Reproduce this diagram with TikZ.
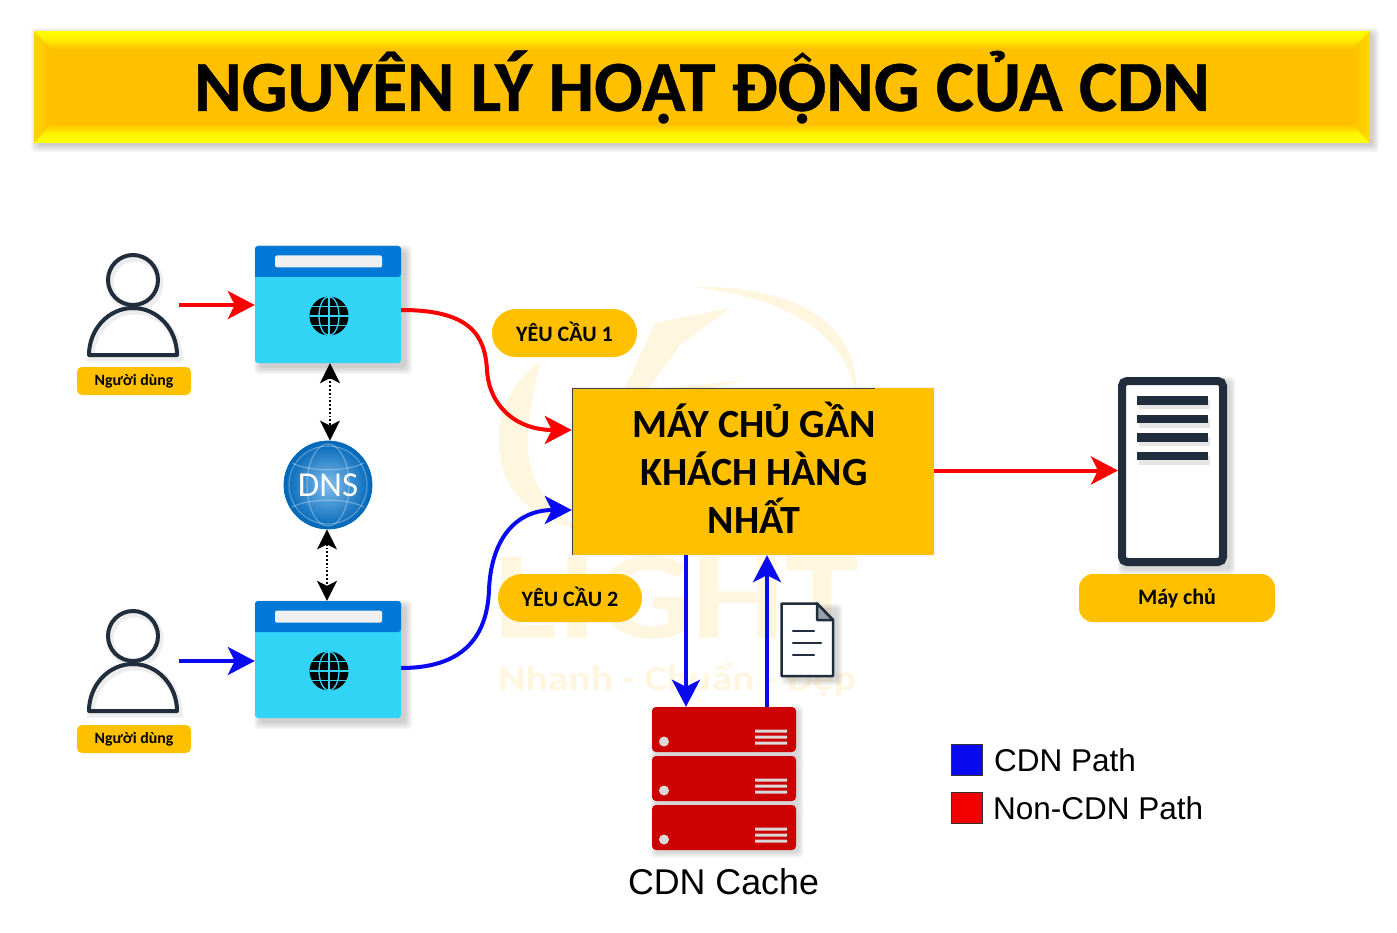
\documentclass[tikz,border=0pt]{standalone}
\usepackage{fontspec}
\setmainfont{Carlito}
\newfontfamily\arialfont{Liberation Sans}
\newfontfamily\headfont[BoldFont={Carlito Bold},BoldFeatures={FakeBold=0.6}]{Carlito}
\usetikzlibrary{arrows.meta,calc,shadings}
\definecolor{amber}{HTML}{FFC000}
\definecolor{ink}{HTML}{1F2D3D}
\definecolor{pale}{HTML}{FFF6E0}
\definecolor{cobalt}{HTML}{0078D7}
\definecolor{sky}{HTML}{32D4F5}
\definecolor{rack}{HTML}{CC0000}
\definecolor{pathblue}{HTML}{0A0AF0}
\tikzset{
  pill/.style={fill=amber,rounded corners=24pt,inner sep=0pt,font=\bfseries\fontsize{22}{22}\selectfont},
  tag/.style={fill=amber,rounded corners=5pt,inner sep=0pt,minimum width=114pt,minimum height=28pt,font=\bfseries\fontsize{15.8}{15.8}\selectfont},
  bigtip/.style={-{Stealth[length=27pt,width=28pt,inset=7pt]}},
  dnstip/.style={{Stealth[length=20pt,width=20pt,inset=5pt]}-{Stealth[length=20pt,width=20pt,inset=5pt]},line width=1.8pt,dotted},
  redpath/.style={bigtip,draw=red,line width=4pt},
  bluepath/.style={bigtip,draw=pathblue,line width=4pt},
  iconline/.style={draw=ink,line join=round,line cap=round},
}
% soft drop shadow under a rounded box: corners, then offset and spread
\newcommand{\softbox}[6]{%
  \foreach \s in {0,1.5,...,#6}{%
    \fill[black,opacity=.04,rounded corners=4pt]
      (#1+#5-\s,#2+#5-\s) rectangle (#3+#5+\s,#4+#5+\s);}}
% person icon: #1 node name, #2 vertical offset
\newcommand{\personicon}[2]{%
  \begin{scope}[yshift=-#2pt]
    \draw[black,opacity=.07,line width=7pt] (135,283) circle (25);
    \draw[black,opacity=.07,line width=7pt] (91,358) arc[start angle=180,end angle=360,x radius=44,y radius=47] -- cycle;
    \draw[iconline,line width=4pt] (133,280) circle (25);
    \draw[iconline,line width=4pt] (89,355) arc[start angle=180,end angle=360,x radius=44,y radius=47] -- cycle;
    \node[minimum width=92pt,minimum height=102pt,inner sep=0pt] (#1) at (133,305) {};
  \end{scope}}
% browser window icon: #1 node name, #2 top edge
\newcommand{\browserwin}[2]{%
  \softbox{255}{#2}{401}{#2+117}{5}{6}
  \node[fill=sky,rounded corners=3pt,minimum width=146pt,minimum height=117pt,inner sep=0pt] (#1) at (328,#2+58.5) {};
  \fill[cobalt,rounded corners=3pt] (255,#2+31) -- (255,#2) -- (401,#2) -- (401,#2+31) [sharp corners] -- cycle;
  \fill[white!94!black,rounded corners=1.5pt] (275,#2+9.5) rectangle (382,#2+21.5);
  \begin{scope}[shift={(329,#2+70)}]
    \fill[black] (0,0) circle (19.5);
    \draw[sky,line width=1.3pt] (-19.5,0) -- (19.5,0) (-18,-9.5) -- (18,-9.5) (-18,9.5) -- (18,9.5) (0,-19.5) -- (0,19.5);
    \draw[sky,line width=1.3pt] (0,0) ellipse (10 and 19.5);
  \end{scope}}
% one unit of the red rack: #1 top edge
\newcommand{\rackunit}[1]{%
  \softbox{652}{#1}{796}{#1+45}{3}{4.5}
  \fill[rack,rounded corners=4pt] (652,#1) rectangle (796,#1+45);
  \fill[white!85!black] (664,#1+34.5) circle (5);
  \fill[white!85!black] (755,#1+22.5) rectangle (787,#1+25.5)
                        (755,#1+28.5) rectangle (787,#1+31.5)
                        (755,#1+34.5) rectangle (787,#1+37.5);}
\begin{document}
\begin{tikzpicture}[x=1pt,y=-1pt]
\useasboundingbox (0,0) rectangle (1397,933);
\fill[white] (0,0) rectangle (1397,933);

% pale brand mark behind the diagram
\fill[pale] (693,287) .. controls (790,285) and (860,320) .. (856,395)
            .. controls (845,335) and (790,298) .. (693,287) -- cycle;
\fill[pale] (540,362) .. controls (505,385) and (495,425) .. (500,455)
            .. controls (505,495) and (535,520) .. (580,530)
            .. controls (545,505) and (528,480) .. (528,445)
            .. controls (528,415) and (535,385) .. (540,362) -- cycle;
\fill[pale] (730,308) -- (655,323) -- (622,395) -- (640,400) -- (680,345) -- cycle;
\fill[pale] (747,380) -- (690,392) -- (670,388) -- cycle;
\node[pale,inner sep=0pt,transform shape,xscale=1.19,font=\bfseries\fontsize{125}{125}\selectfont] (markname) at (677,598) {LIGHT};
\node[pale,inner sep=0pt,transform shape,xscale=1.19,font=\bfseries\fontsize{35}{35}\selectfont] (markmotto) at (677,680) {Nhanh - Chuẩn - Đẹp};

% title banner with bevelled edges
\softbox{34}{31}{1370}{143}{3}{6}
\node[fill=amber,minimum width=1336pt,minimum height=112pt,inner sep=0pt,
      font=\headfont\bfseries\fontsize{72}{72}\selectfont] (banner) at (702,87) {\raisebox{-2pt}{NGUYÊN LÝ HOẠT ĐỘNG CỦA CDN}};
% circumflex of the capital O with dot below, which the bold face leaves out
\draw[black,line width=3.6pt,miter limit=10] (794.5,61) -- (802.5,54.5) -- (810.5,61);
\shade[top color=yellow,bottom color=amber,middle color=yellow!70!amber] (34,31) -- (1370,31) -- (1353,49) -- (51,49) -- cycle;
\shade[top color=amber,bottom color=yellow,middle color=yellow!85!amber] (34,143) -- (1370,143) -- (1353,124) -- (51,124) -- cycle;
\shade[left color=yellow!35!amber,right color=amber] (34,31) -- (51,49) -- (51,124) -- (34,143) -- cycle;
\shade[left color=amber,right color=yellow!45!amber] (1370,31) -- (1353,49) -- (1353,124) -- (1370,143) -- cycle;

% users and their browsers
\personicon{userA}{0}
\personicon{userB}{356}
\node[tag] (tagA) at (134,381) {\raisebox{-3pt}{Người dùng}};
\node[tag] (tagB) at (134,739) {\raisebox{-3pt}{Người dùng}};
\browserwin{browserA}{246}
\browserwin{browserB}{601}

% DNS globe
\node[circle,minimum size=88pt,inner sep=0pt,inner color=cobalt!50!white,outer color=cobalt!85!black,draw=cobalt!90!black,line width=.8pt] (dns) at (328,485) {};
\begin{scope}[white,opacity=.32,line width=1.1pt]
  \draw (328,485) circle (39);
  \draw (328,485) ellipse (21 and 41);
  \draw (292,463) .. controls (310,472) and (346,472) .. (364,463);
  \draw (292,507) .. controls (310,498) and (346,498) .. (364,507);
\end{scope}
\node[white,inner sep=0pt,font=\fontsize{35}{35}\selectfont] at (dns) {DNS};

% nearest edge server
\softbox{572}{388}{934}{555}{0}{1.5}
\node[fill=amber,minimum width=362pt,minimum height=167pt,inner sep=0pt,align=center,
      font=\bfseries\fontsize{40}{48}\selectfont] (edge) at (753,471.5)
      {\raisebox{7pt}{\hspace*{2pt}MÁY CHỦ GẦN}\\\raisebox{7pt}{\hspace*{2pt}KHÁCH HÀNG}\\\raisebox{7pt}{\hspace*{2pt}NHẤT}};
\draw[black!75,line width=.8pt] (572,555) -- (572,388) -- (875,388);

% request labels
\node[pill,minimum width=145pt,minimum height=48pt] (reqA) at (564.5,333) {\raisebox{2pt}{YÊU CẦU 1}};
\node[pill,minimum width=144pt,minimum height=48pt] (reqB) at (570,598) {\raisebox{2pt}{YÊU CẦU 2}};

% origin server
\softbox{1118}{377}{1227}{566}{4}{5}
\node[draw=ink,fill=white,line width=8pt,rounded corners=5pt,minimum width=101pt,minimum height=181pt,inner sep=0pt] (origin) at (1172.5,471.5) {};
\foreach \yy in {396,414.5,433,451.5}{
  \fill[black,opacity=.10] (1139,\yy+4) rectangle (1210,\yy+13);
  \fill[ink] (1137,\yy) rectangle (1208,\yy+8.5);}
\node[fill=amber,rounded corners=14pt,inner sep=0pt,minimum width=196pt,minimum height=48pt,
      font=\bfseries\fontsize{22}{22}\selectfont] (originTag) at (1177,598) {\raisebox{-5pt}{Máy chủ}};

% CDN cache rack
\rackunit{707}
\rackunit{756}
\rackunit{805}
\node[minimum width=144pt,minimum height=143pt,inner sep=0pt] (rack) at (724,778.5) {};
\node[inner sep=0pt,font=\arialfont\fontsize{35.8}{36}\selectfont] (rackName) at (723.5,882) {CDN Cache};

% document icon
\softbox{781}{603}{833}{676}{5}{5}
\draw[iconline,fill=white,line width=2.5pt] (781.5,603.5) -- (817,603.5) -- (833,620) -- (833,676) -- (781.5,676) -- cycle;
\draw[iconline,fill=ink!45!white,line width=2.5pt] (817,603.5) -- (817,620) -- (833,620) -- cycle;
\draw[iconline,line width=2.5pt] (793,631) -- (814,631) (793,643) -- (821,643) (793,655) -- (814,655);
\node[inner sep=0pt,minimum width=52pt,minimum height=73pt] (doc) at (807,640) {};

% connectors
\draw[redpath] (userA.east) -- (userA.east -| browserA.west);
\draw[bluepath] (userB.east) -- (userB.east -| browserB.west);
\draw[dnstip] ([xshift=2pt]browserA.south) -- ([xshift=2pt]dns.north);
\draw[dnstip] ([xshift=-1pt]dns.south) -- ([xshift=-1pt]browserB.north);
\draw[redpath] ([yshift=-5.5pt]browserA.east) .. controls (470,310) and (485,335) .. (487,370)
               .. controls (489,405) and (515,430) .. ([yshift=41.5pt]edge.west);
\draw[bluepath] ([yshift=-8.5pt]browserB.east) .. controls (460,668) and (487,640) .. (489,590)
               .. controls (491,540) and (515,510) .. ([yshift=-38.5pt]edge.west);
\draw[redpath] ([yshift=1pt]edge.east) -- ([yshift=1pt]edge.east -| origin.west);
\draw[bluepath] (edge.south -| 686,0) -- (rack.north -| 686,0);
\draw[bluepath] (rack.north -| 767,0) -- (edge.south -| 767,0);

% legend
\node[fill=pathblue,draw=black!80,line width=1pt,minimum size=31pt,inner sep=0pt] (keyBlue) at (966.5,759.5) {};
\node[fill=red!95!black,draw=black!80,line width=1pt,minimum size=31pt,inner sep=0pt] (keyRed) at (966.5,807.5) {};
\node[anchor=west,inner sep=0pt,font=\arialfont\fontsize{31.5}{32}\selectfont] (labBlue) at (994,760) {CDN Path};
\node[anchor=west,inner sep=0pt,font=\arialfont\fontsize{31.5}{32}\selectfont] (labRed) at (993,808) {Non-CDN Path};
\end{tikzpicture}
\end{document}
